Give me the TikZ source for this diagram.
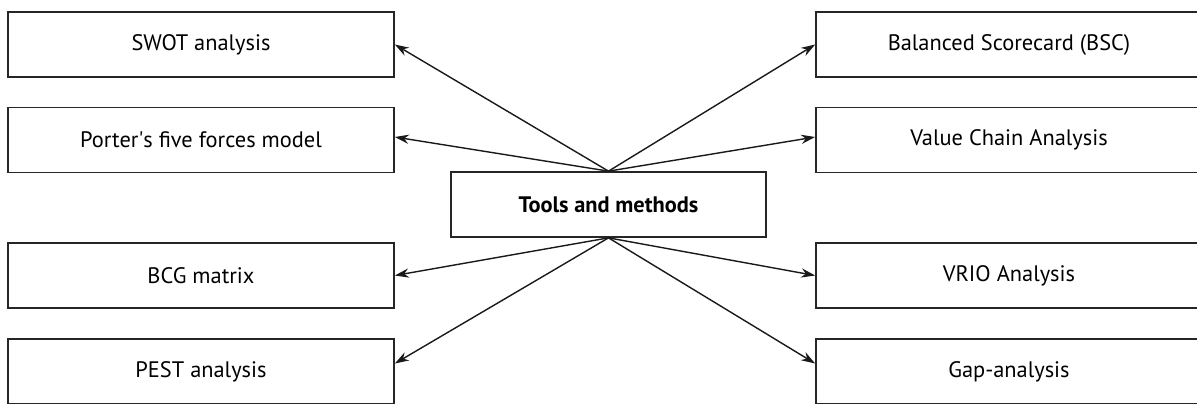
\documentclass[tikz,border=0pt]{standalone}
\usepackage{fontspec}
\setmainfont{PT Sans}
\usetikzlibrary{arrows.meta}
\begin{document}
\begin{tikzpicture}[x=0.5pt,y=-0.5pt,
  box/.style={draw=black!85,line width=0.85pt,minimum width=193pt,minimum height=32.5pt,inner sep=0pt,font=\fontsize{11.2}{13}\selectfont},
  link/.style={draw=black!90,line width=0.7pt,-{Stealth[length=7pt,width=4.6pt]}}]
\clip (0,0) rectangle (1197,403);

\node[box] (swot) at (201,44.5) {SWOT analysis};
\node[box] (porter) at (201,140) {Porter\textquotesingle s five forces model};
\node[box] (bcg) at (201,275.5) {BCG matrix};
\node[box] (pest) at (201,371.5) {PEST analysis};
\node[box] (bsc) at (1009,44.5) {Balanced Scorecard (BSC)};
\node[box] (vca) at (1009,140) {Value Chain Analysis};
\node[box] (vrio) at (1009,275.5) {VRIO Analysis};
\node[box] (gap) at (1009,371.5) {Gap-analysis};
\node[box,minimum width=157.5pt,font=\fontsize{11.2}{13}\selectfont\bfseries] (tools) at (608.5,204.5) {Tools and methods};

\path[link] (tools.north) -- (swot.east);
\path[link] (tools.north) -- ([yshift=1.5pt]porter.east);
\path[link] (tools.north) -- (bsc.west);
\path[link] (tools.north) -- ([yshift=1.5pt]vca.west);
\path[link] (tools.south) -- (bcg.east);
\path[link] (tools.south) -- ([yshift=4pt]pest.east);
\path[link] (tools.south) -- (vrio.west);
\path[link] (tools.south) -- ([yshift=4pt]gap.west);
\end{tikzpicture}
\end{document}
